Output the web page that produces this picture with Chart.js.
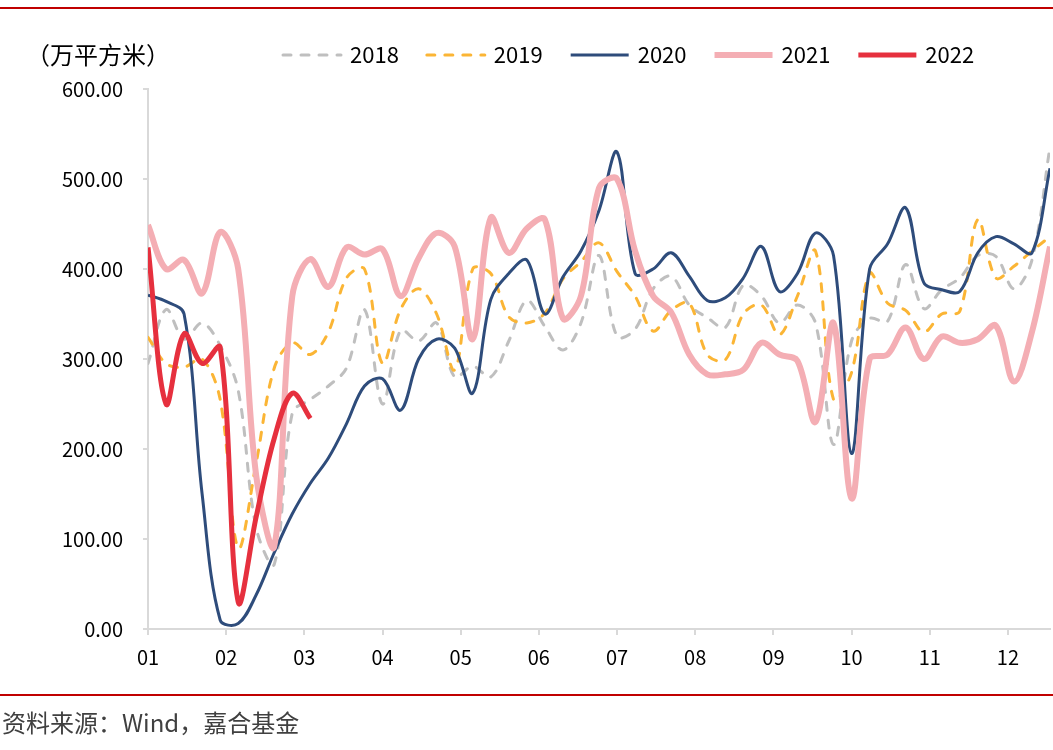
<!DOCTYPE html>
<html>
<head>
<meta charset="utf-8">
<script src="https://cdn.jsdelivr.net/npm/chart.js@4.4.1/dist/chart.umd.min.js"></script>
<style>
  html, body { margin: 0; padding: 0; background: #fff; }
  #wrap { width: 1053px; height: 750px; }
</style>
</head>
<body>
<div id="wrap"><canvas id="grafico" width="1053" height="750"></canvas></div>
<script>
// Dados semanais (万平方米), semana 0..50 do ano
const monthLabels = ['01', '02', '03', '04', '05', '06', '07', '08', '09', '10', '11', '12'];
const seriesLabels = ['2018', '2019', '2020', '2021', '2022'];

const vendas2018 = [295, 355, 322, 340, 315, 265, 112, 72, 240, 255, 270, 290, 355, 250, 332, 320, 340, 280, 292, 280,
  320, 365, 336, 310, 340, 415, 325, 333, 378, 392, 360, 346, 335, 382, 370, 340, 360, 340, 205, 320,
  345, 342, 405, 356, 377, 390, 415, 414, 378, 410, 536];
const vendas2019 = [324, 295, 291, 300, 255, 90, 185, 290, 318, 305, 330, 390, 400, 295, 355, 378, 350, 288, 400, 395,
  347, 340, 351, 389, 408, 429, 397, 370, 331, 354, 362, 305, 299, 350, 360, 327, 370, 420, 255, 285,
  395, 362, 354, 330, 350, 353, 455, 390, 403, 420, 436];
const vendas2020 = [371, 364, 350, 150, 10, 6, 38, 85, 128, 162, 190, 228, 270, 278, 243, 300, 322, 312, 262, 366,
  395, 410, 350, 391, 420, 465, 530, 395, 400, 418, 392, 365, 368, 390, 425, 375, 395, 440, 415, 195,
  400, 428, 468, 385, 377, 375, 418, 436, 428, 418, 512];
const vendas2021 = [449, 400, 410, 373, 441, 400, 170, 92, 370, 411, 380, 424, 416, 422, 370, 412, 440, 425, 322, 457,
  418, 445, 455, 345, 370, 490, 500, 420, 370, 352, 305, 283, 283, 288, 318, 305, 298, 230, 340, 145,
  300, 305, 335, 300, 325, 318, 322, 337, 275, 330, 425];
const vendas2022 = [424, 250, 328, 295, 313, 30, 125, 212, 262, 234];

const WEEKS_PER_MONTH = 52 / 12;
const FONT = '"Noto Sans CJK SC", "Noto Sans", sans-serif';

function toPoints(valores) {
  return valores.map((v, i) => ({ x: i, y: v }));
}

// Legenda, unidade, linhas vermelhas e fonte
const extrasPlugin = {
  id: 'extras',
  afterDraw(chart) {
    const ctx = chart.ctx;
    ctx.save();

    // linhas vermelhas
    ctx.strokeStyle = '#C00000';
    ctx.lineWidth = 2;
    ctx.beginPath();
    ctx.moveTo(0, 8); ctx.lineTo(1053, 8);
    ctx.moveTo(0, 695); ctx.lineTo(1053, 695);
    ctx.stroke();

    // unidade
    ctx.fillStyle = '#000';
    ctx.textBaseline = 'middle';
    ctx.font = '24px ' + FONT;
    ctx.fillText('（万平方米）', 26, 55);

    // legenda
    ctx.font = '22px ' + FONT;
    let x = 283;
    const y = 55;
    chart.data.datasets.forEach(ds => {
      ctx.strokeStyle = ds.borderColor;
      ctx.lineWidth = ds.borderWidth;
      ctx.lineCap = ds.borderCapStyle || 'butt';
      ctx.setLineDash(ds.borderDash || []);
      ctx.beginPath();
      ctx.moveTo(x, y);
      ctx.lineTo(x + 58, y);
      ctx.stroke();
      ctx.setLineDash([]);
      ctx.fillStyle = '#000';
      ctx.fillText(ds.label, x + 67, y);
      x += 67 + ctx.measureText(ds.label).width + 28;
    });

    // fonte
    ctx.fillStyle = '#404040';
    ctx.font = '24px ' + FONT;
    ctx.fillText('资料来源：Wind，嘉合基金', 2, 723);

    ctx.restore();
  }
};

const ctx = document.getElementById('grafico').getContext('2d');
new Chart(ctx, {
  type: 'line',
  data: {
    datasets: [
      {
        label: seriesLabels[0], data: toPoints(vendas2018), order: 5,
        borderColor: '#BFBFBF', borderWidth: 3, borderDash: [8, 10], borderCapStyle: 'round'
      },
      {
        label: seriesLabels[1], data: toPoints(vendas2019), order: 4,
        borderColor: '#FBB535', borderWidth: 3, borderDash: [8, 10], borderCapStyle: 'round'
      },
      {
        label: seriesLabels[2], data: toPoints(vendas2020), order: 3,
        borderColor: '#2E4C7B', borderWidth: 3
      },
      {
        label: seriesLabels[3], data: toPoints(vendas2021), order: 2,
        borderColor: '#F4AEB4', borderWidth: 6
      },
      {
        label: seriesLabels[4], data: toPoints(vendas2022), order: 1,
        borderColor: '#E6303E', borderWidth: 5
      }
    ]
  },
  options: {
    responsive: false,
    animation: false,
    parsing: false,
    layout: { padding: { top: 89, right: 3, bottom: 71, left: 0 } },
    elements: {
      point: { radius: 0, hoverRadius: 0 },
      line: { tension: 0.35, fill: false, borderJoinStyle: 'round' }
    },
    plugins: {
      legend: { display: false },
      tooltip: { enabled: false }
    },
    scales: {
      x: {
        type: 'linear',
        min: 0,
        max: 50,
        afterBuildTicks: scale => {
          scale.ticks = monthLabels.map((_, i) => ({ value: i * WEEKS_PER_MONTH }));
        },
        afterFit: scale => { scale.height = 50; },
        ticks: {
          autoSkip: false,
          maxRotation: 0,
          padding: 10,
          color: '#000',
          font: { family: FONT, size: 20 },
          callback: (v, i) => monthLabels[i]
        },
        grid: { drawOnChartArea: false, tickLength: 6, color: '#D9D9D9', lineWidth: 2 },
        border: { color: '#D9D9D9', width: 2 }
      },
      y: {
        min: 0,
        max: 600,
        afterFit: scale => { scale.width = 148; },
        ticks: {
          stepSize: 100,
          padding: 20,
          color: '#000',
          font: { family: FONT, size: 20 },
          callback: v => v.toFixed(2)
        },
        grid: { drawOnChartArea: false, tickLength: 5, color: '#D9D9D9', lineWidth: 2 },
        border: { color: '#D9D9D9', width: 2 }
      }
    }
  },
  plugins: [extrasPlugin]
});
</script>
</body>
</html>
